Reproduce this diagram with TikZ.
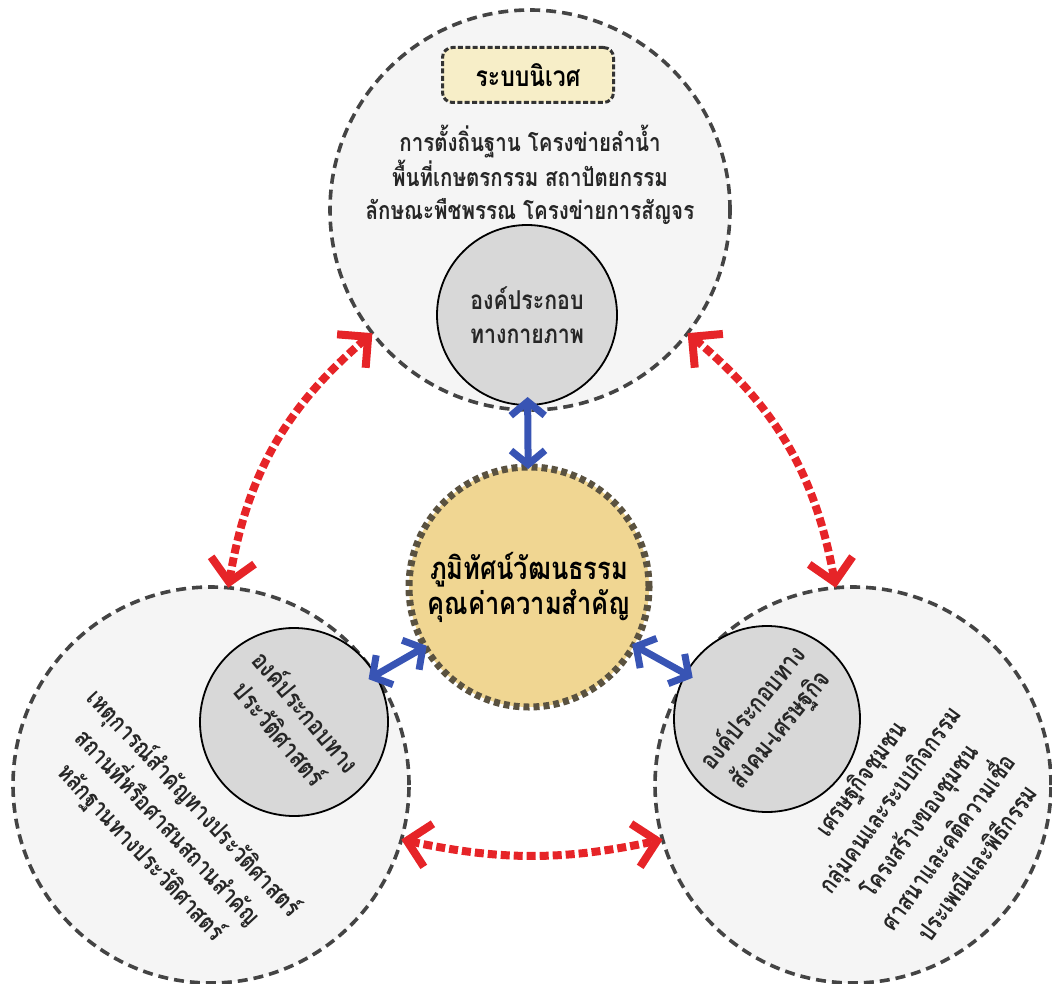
\documentclass[tikz,border=0pt]{standalone}
\usepackage{fontspec}
\newfontfamily\thaifont[Script=Thai,FakeStretch=0.82]{Loma}
\usetikzlibrary{arrows.meta}
\definecolor{rimgrey}{RGB}{68,68,68}
\definecolor{outerfill}{RGB}{245,245,245}
\definecolor{corefill}{RGB}{216,216,216}
\definecolor{valuefill}{RGB}{240,214,146}
\definecolor{valuerim}{RGB}{90,82,64}
\definecolor{boxfill}{RGB}{247,238,200}
\definecolor{linkred}{RGB}{230,36,40}
\definecolor{linkblue}{RGB}{56,84,180}
\tikzset{
  realm/.style={circle,draw=rimgrey,fill=outerfill,line width=1.8pt,
    dash pattern=on 5pt off 3pt,inner sep=0pt,outer sep=0pt},
  core/.style={circle,draw=black,fill=corefill,line width=0.9pt,inner sep=0pt,outer sep=0pt,
    align=center,text=black!85,font=\thaifont\bfseries\fontsize{13}{17}\selectfont},
  value/.style={circle,draw=valuerim,fill=valuefill,line width=3.5pt,
    dash pattern=on 3pt off 2pt,inner sep=0pt,outer sep=0pt,align=center,
    font=\thaifont\bfseries\fontsize{15.5}{17.5}\selectfont},
  realmtext/.style={align=center,text=black!85,
    font=\thaifont\bfseries\fontsize{12.5}{16.5}\selectfont},
  ecobox/.style={draw=black!80,fill=boxfill,line width=1.5pt,
    dash pattern=on 2.5pt off 1.2pt,rounded corners=5pt,
    minimum width=85.5pt,minimum height=27.5pt,
    font=\thaifont\bfseries\fontsize{14}{17}\selectfont},
  redlink/.style={draw=linkred,line width=4pt,dash pattern=on 4.5pt off 2pt,
    {Straight Barb[length=11pt,width=22pt]}-{Straight Barb[length=11pt,width=22pt]}},
  bluelink/.style={draw=linkblue,line width=3.5pt,shorten <=-4pt,shorten >=-1pt,
    {Straight Barb[length=7pt,width=17pt]}-{Straight Barb[length=7pt,width=17pt]}}
}
\begin{document}
\begin{tikzpicture}[x=0.5pt,y=-0.5pt]
\useasboundingbox (0,0) rectangle (1052,983);
% outer realms
\node[realm,minimum size=200pt] (phys) at (530,210) {};
\node[realm,minimum size=198pt] (hist) at (211,785) {};
\node[realm,minimum size=198pt] (soc) at (853,785) {};
% realm contents
\node[ecobox] (eco) at (528,75) {ระบบนิเวศ};
\node[realmtext] (phystext) at (530,175) {การตั้งถิ่นฐาน โครงข่ายลำน้ำ\\พื้นที่เกษตรกรรม สถาปัตยกรรม\\ลักษณะพืชพรรณ โครงข่ายการสัญจร};
\node[realmtext,rotate=-47,font=\thaifont\bfseries\fontsize{12.5}{18}\selectfont] (histtext) at (167,828) {เหตุการณ์สำคัญทางประวัติศาสตร์\\สถานที่หรือศาสนสถานสำคัญ\\หลักฐานทางประวัติศาสตร์};
\node[realmtext,rotate=54,font=\thaifont\bfseries\fontsize{12.5}{18}\selectfont] (soctext) at (918,820) {เศรษฐกิจชุมชน\\กลุ่มคนและระบบกิจกรรม\\โครงสร้างของชุมชน\\ศาสนาและคติความเชื่อ\\ประเพณีและพิธีกรรม};
% components
\node[core,minimum size=90pt] (physcore) at (527,315) {องค์ประกอบ\\ทางกายภาพ};
\node[core,minimum size=94pt,rotate=-50] (histcore) at (294,722) {องค์ประกอบทาง\\ประวัติศาสตร์};
\node[core,minimum size=93pt,rotate=51] (soccore) at (767,719) {องค์ประกอบทาง\\สังคม-เศรษฐกิจ};
\node[value,minimum size=120pt] (centre) at (529,587) {ภูมิทัศน์วัฒนธรรม\\คุณค่าความสำคัญ};
% links
\draw[bluelink] (physcore) -- (centre);
\draw[bluelink] (histcore) -- (centre);
\draw[bluelink] (soccore) -- (centre);
\draw[redlink] (phys.218) to[bend right=20] (hist.85);
\draw[redlink] (phys.322) to[bend left=20] (soc.95);
\draw[redlink] (hist.-16) to[bend right=12] (soc.196);
\end{tikzpicture}
\end{document}
